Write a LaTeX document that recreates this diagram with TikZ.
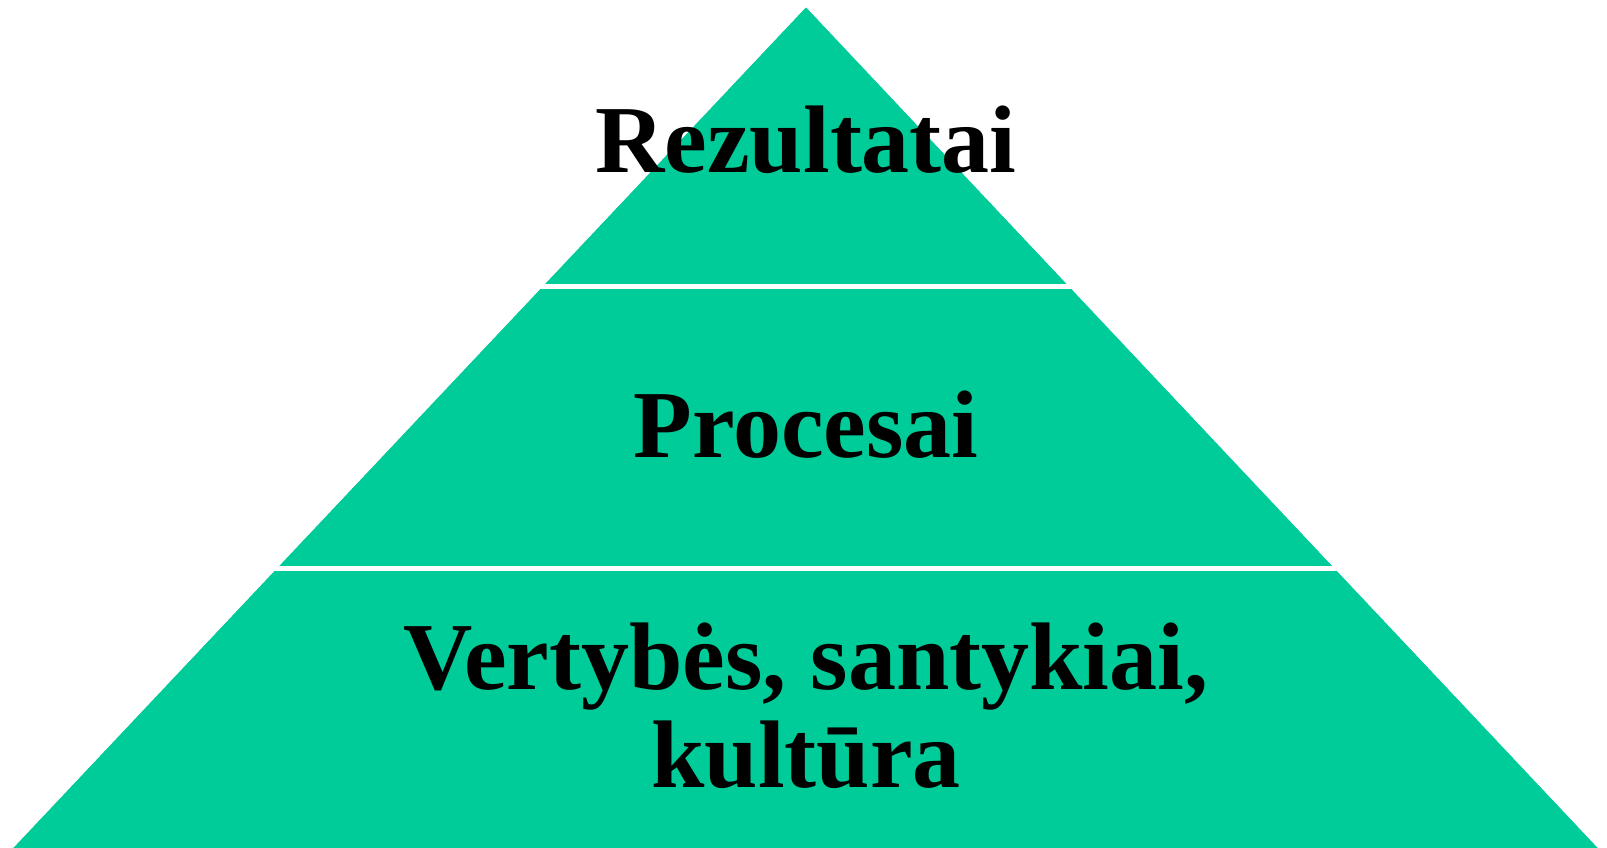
\documentclass[tikz,border=0pt]{standalone}
\usepackage{fontspec}
\setmainfont{Liberation Serif}
\definecolor{pyr}{HTML}{00CC99}
\begin{document}
\begin{tikzpicture}[x=1pt,y=-1pt,
  lbl/.style={font=\fontsize{96}{98}\selectfont\bfseries, inner sep=0pt, align=center, anchor=base},
  gap/.style={draw=white, line width=5.5pt}]
\useasboundingbox (0,0) rectangle (1607,848);
\coordinate (apex) at (806,7);
\coordinate (bl) at (13,848);
\coordinate (br) at (1598,848);
\fill[pyr] (apex) -- (br) -- (bl) -- cycle;
\coordinate (g1l) at (500,286.5);
\coordinate (g1r) at (1110,286.5);
\coordinate (g2l) at (230,568.5);
\coordinate (g2r) at (1380,568.5);
\draw[gap] (g1l) -- (g1r);
\draw[gap] (g2l) -- (g2r);
\fill[white] (apex) -- (bl) -- (0,848) -- (0,0) -- (1607,0) -- (1607,848) -- (br) -- cycle;
\node[lbl] (rez) at (806,173) {Rezultatai};
\node[lbl] (proc) at (806,457) {Procesai};
\node[lbl] (vert) at (806,787) {Vertybės, santykiai,\\kultūra};
\end{tikzpicture}
\end{document}
